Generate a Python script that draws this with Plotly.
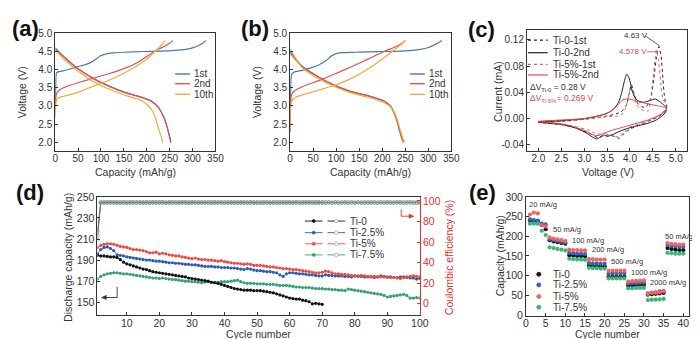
import plotly.graph_objects as go

W, H = 700, 339
def px(x): return x / W
def py(y): return 1 - y / H

FONT = "Arial, Liberation Sans, sans-serif"
AX = "#333333"
C_BLUE, C_RED, C_ORANGE = "#4a78a8", "#d9545a", "#f2a93b"
D_BLACK, D_BLUE, D_RED, D_GREEN = "#111111", "#2b5bb0", "#ee4a40", "#35a071"
RED_AX = "#e03030"

# ---------------- (a) charge/discharge, Ti-0 ----------------
a1_chg_cap = [0, 1, 3, 10, 25, 46, 60, 75, 88, 97, 110, 125, 150, 190, 230, 261, 285, 300, 312, 322, 329]
a1_chg_v = [2.9, 3.5, 3.92, 3.95, 3.99, 4.07, 4.12, 4.18, 4.28, 4.37, 4.43, 4.46, 4.48, 4.5, 4.51, 4.53, 4.56, 4.6, 4.66, 4.73, 4.8]
a2_chg_cap = [0, 1, 3, 10, 18, 32, 55, 82, 120, 154, 180, 204, 225, 240, 250, 257]
a2_chg_v = [2.9, 3.2, 3.35, 3.45, 3.5, 3.57, 3.66, 3.76, 3.9, 4.05, 4.2, 4.4, 4.56, 4.65, 4.73, 4.8]
a10_chg_cap = [0, 1, 3, 10, 25, 46, 82, 118, 154, 190, 205, 218, 230, 240]
a10_chg_v = [2.7, 3.05, 3.18, 3.24, 3.29, 3.36, 3.54, 3.71, 3.93, 4.2, 4.34, 4.5, 4.65, 4.8]
a1_dis_cap = [0, 18, 46, 82, 118, 154, 190, 211, 225, 233, 240, 246, 251, 253]
a1_dis_v = [4.6, 4.37, 4.06, 3.77, 3.55, 3.37, 3.24, 3.13, 2.97, 2.8, 2.6, 2.35, 2.12, 2.0]
a2_dis_cap = [0, 18, 46, 82, 118, 154, 190, 211, 225, 233, 240, 246, 250, 252]
a2_dis_v = [4.55, 4.36, 4.06, 3.76, 3.54, 3.36, 3.23, 3.12, 2.96, 2.8, 2.6, 2.35, 2.12, 2.0]
a10_dis_cap = [0, 18, 46, 82, 118, 154, 190, 204, 213, 218, 224, 229, 233, 235]
a10_dis_v = [4.55, 4.3, 4.0, 3.68, 3.46, 3.29, 3.14, 3.0, 2.85, 2.7, 2.45, 2.25, 2.1, 2.0]

# ---------------- (b) charge/discharge, Ti-5% ----------------
b1_chg_cap = [0, 1, 3, 8, 26, 45, 62, 78, 90, 100, 112, 140, 169, 210, 240, 265, 283, 300, 311, 322, 329]
b1_chg_v = [2.3, 3.4, 3.85, 3.93, 3.98, 4.05, 4.13, 4.25, 4.38, 4.44, 4.47, 4.48, 4.49, 4.5, 4.51, 4.53, 4.56, 4.61, 4.67, 4.74, 4.8]
b2_chg_cap = [0, 1, 3, 8, 26, 62, 97, 133, 169, 204, 230, 242, 250]
b2_chg_v = [2.3, 3.05, 3.3, 3.4, 3.53, 3.7, 3.88, 4.08, 4.29, 4.5, 4.64, 4.72, 4.8]
b10_chg_cap = [0, 1, 3, 12, 30, 62, 97, 133, 169, 204, 233, 243, 250]
b10_chg_v = [2.3, 2.95, 3.12, 3.24, 3.32, 3.44, 3.57, 3.76, 4.02, 4.33, 4.62, 4.71, 4.8]
b1_dis_cap = [0, 26, 62, 97, 133, 169, 204, 218, 226, 233, 238, 243, 246]
b1_dis_v = [4.5, 4.1, 3.8, 3.57, 3.4, 3.29, 3.14, 3.0, 2.8, 2.55, 2.3, 2.1, 2.0]
b2_dis_cap = [0, 26, 62, 97, 133, 169, 204, 218, 226, 233, 238, 243, 246]
b2_dis_v = [4.45, 4.08, 3.79, 3.56, 3.39, 3.28, 3.13, 2.99, 2.8, 2.55, 2.3, 2.1, 2.0]
b10_dis_cap = [0, 26, 62, 97, 133, 169, 204, 219, 228, 235, 240, 245, 248]
b10_dis_v = [4.57, 4.06, 3.75, 3.53, 3.36, 3.24, 3.09, 2.97, 2.78, 2.52, 2.3, 2.1, 2.0]

# ---------------- (c) CV ----------------
cv_t0_1_v = [2.0, 2.5, 3.0, 3.5, 3.8, 3.92, 3.98, 4.03, 4.08, 4.15, 4.25, 4.35, 4.45, 4.52, 4.58, 4.63, 4.68, 4.72, 4.76, 4.8,
             4.75, 4.6, 4.4, 4.2, 4.0, 3.85, 3.77, 3.65, 3.5, 3.4, 3.3, 3.1, 2.8, 2.5, 2.0]
cv_t0_1_i = [-0.005, -0.004, -0.001, 0.004, 0.01, 0.02, 0.038, 0.052, 0.04, 0.025, 0.018, 0.018, 0.03, 0.06, 0.095, 0.11, 0.095, 0.06, 0.03, 0.02,
             0.01, 0.002, -0.004, -0.01, -0.016, -0.024, -0.03, -0.027, -0.025, -0.027, -0.029, -0.022, -0.014, -0.009, -0.006]
cv_t0_2_v = [2.0, 2.5, 3.0, 3.3, 3.5, 3.65, 3.75, 3.82, 3.88, 3.93, 3.98, 4.05, 4.15, 4.3, 4.45, 4.55, 4.65, 4.75, 4.8,
             4.78, 4.7, 4.55, 4.35, 4.1, 3.9, 3.75, 3.6, 3.5, 3.42, 3.35, 3.28, 3.2, 3.05, 2.8, 2.5, 2.2, 2.0]
cv_t0_2_i = [-0.005, -0.003, 0.0, 0.004, 0.008, 0.015, 0.025, 0.04, 0.058, 0.068, 0.062, 0.042, 0.028, 0.025, 0.028, 0.03, 0.026, 0.02, 0.018,
             0.01, 0.004, -0.003, -0.008, -0.012, -0.016, -0.02, -0.025, -0.027, -0.025, -0.028, -0.031, -0.029, -0.022, -0.014, -0.009, -0.007, -0.005]
cv_t5_1_v = [2.0, 2.5, 3.0, 3.5, 3.8, 3.9, 3.97, 4.02, 4.08, 4.15, 4.3, 4.4, 4.45, 4.5, 4.578, 4.62, 4.68, 4.72, 4.8,
             4.7, 4.5, 4.2, 4.0, 3.85, 3.75, 3.6, 3.45, 3.3, 3.1, 2.8, 2.5, 2.0]
cv_t5_1_i = [-0.005, -0.004, -0.001, 0.003, 0.005, 0.015, 0.035, 0.047, 0.035, 0.02, 0.012, 0.012, 0.03, 0.06, 0.105, 0.09, 0.05, 0.03, 0.02,
             0.008, 0.0, -0.008, -0.013, -0.022, -0.028, -0.025, -0.022, -0.024, -0.018, -0.012, -0.008, -0.005]
cv_t5_2_v = [2.0, 2.5, 3.0, 3.4, 3.6, 3.75, 3.85, 3.95, 4.05, 4.15, 4.3, 4.5, 4.65, 4.8,
             4.75, 4.6, 4.4, 4.2, 4.0, 3.8, 3.6, 3.45, 3.3, 3.2, 3.0, 2.7, 2.4, 2.0]
cv_t5_2_i = [-0.004, -0.002, 0.0, 0.006, 0.012, 0.022, 0.029, 0.03, 0.029, 0.026, 0.024, 0.021, 0.019, 0.016,
             0.01, 0.004, -0.002, -0.006, -0.01, -0.014, -0.018, -0.022, -0.026, -0.025, -0.018, -0.011, -0.007, -0.005]

# ---------------- (d) cycling ----------------
cyc_ti0 = list(range(1, 71))
cyc_all = list(range(1, 101))
dis_ti0 = [194.5, 194, 194, 193.5, 193, 193, 192.5, 190.5, 188, 186.5, 185.5, 184.5, 183.5, 182.5, 181.5, 181, 180, 179, 178.5, 178,
           177.5, 177, 176.5, 176, 175.5, 175, 174.5, 174, 173, 172.5, 172, 171.5, 171, 170.5, 170, 169, 168.5, 168, 167, 166,
           165, 164, 163, 162.5, 162, 161.5, 161.5, 161.5, 161, 161, 161, 160.5, 160, 159.5, 159, 158, 157, 156, 155, 154,
           153.5, 153, 153, 152, 151.5, 150.5, 148.5, 149, 148.5, 148]
dis_ti25 = [196, 200, 202, 202.5, 201, 199, 195, 194.5, 194, 193, 192.5, 192, 191.5, 191, 190.5, 190, 190, 189.5, 189, 189,
            188.5, 188, 187.5, 187.5, 187, 187, 186.5, 186, 186, 185.5, 185.5, 185, 184.5, 184, 184, 184, 183.5, 183.5, 183, 183,
            183, 182.5, 182.5, 182, 181.5, 181, 182, 181.5, 180.5, 180, 180, 179.5, 179, 179, 178.5, 178, 176, 174.5, 177, 178,
            178, 177.5, 177, 177, 176.5, 176, 176, 175.5, 175, 175, 176, 175.5, 175.5, 175, 175, 175, 174.5, 174.5, 174, 175,
            174.5, 174.5, 174, 174, 174, 173.5, 174, 175, 174.5, 174, 174, 173.5, 173.5, 174, 174, 173.5, 173, 173, 172, 172.5]
dis_ti5 = [202, 204, 205, 205.5, 205.5, 205, 204, 203, 202.5, 202, 201, 200, 200, 199.5, 199, 198, 197, 197, 197.5, 196,
           196.5, 196, 195, 194.5, 194, 194, 193, 192.5, 192, 191.5, 192, 191, 190.5, 190.5, 190, 190, 189.5, 189, 189.5, 188.5,
           188, 187.5, 187, 187, 186.5, 186, 186.5, 186, 185, 185, 185, 184.5, 184, 183.5, 183.5, 183, 182.5, 182, 182, 181.5,
           181, 181, 180.5, 180, 179.5, 179, 178.5, 178, 178, 178.5, 179.5, 179, 178, 177, 177, 176.5, 176.5, 176, 175.5, 175,
           175, 175.5, 175, 174.5, 174.5, 174.5, 174, 174, 174, 173.5, 173.5, 173.5, 173, 172.5, 173.5, 174, 174.5, 175, 174.5, 174]
dis_ti75 = [172, 174.5, 176, 177, 177.5, 178, 178, 177.5, 177, 177, 176.5, 176, 175.5, 175, 174.5, 174, 173.5, 173, 173, 172.5,
            173, 172.5, 172, 171.5, 171.5, 171, 170.5, 170, 170, 169.5, 169.5, 169, 168.5, 169, 169.5, 169, 169, 169, 169.5, 169.5,
            169.5, 170, 170.5, 171, 169.5, 168.5, 168, 168, 168, 167.5, 167.5, 167.5, 167, 167, 167, 166.5, 166, 166, 166, 165.5,
            165, 164.5, 164.5, 164, 164, 164, 163.5, 163, 163, 163, 162.5, 162.5, 162, 162, 161.5, 161.5, 161, 162.5, 162, 161.5,
            161, 160.5, 160, 159.5, 159, 158.5, 158, 157.5, 156.5, 155, 155.5, 156, 156.5, 157, 157.5, 156.5, 154, 154, 154.5, 154]
ce_ti0 = [66, 98.5, 98.8, 98.3, 98.9, 98.4, 98.7, 98.2, 98.8, 98.5, 98.3, 98.9, 98.4, 98.6, 98.2, 98.8, 98.5, 98.3, 98.9, 98.4,
          98.7, 98.5, 98.2, 98.8, 98.4, 98.6, 98.3, 98.9, 98.5, 98.2, 98.7, 98.4, 98.8, 98.3, 98.6, 98.5, 98.9, 98.2, 98.7, 98.4,
          98.6, 98.3, 98.8, 98.5, 98.2, 98.9, 98.4, 98.6, 98.3, 98.7, 98.5, 98.2, 98.8, 98.4, 98.6, 98.3, 98.9, 98.5, 98.2, 98.7,
          98.4, 98.8, 98.3, 98.6, 98.5, 98.9, 98.2, 98.7, 98.4, 98.6]
ce_ti25 = [70, 98.3, 98.6, 98.9, 98.4, 98.7, 98.2, 98.8, 98.5, 98.3, 98.9, 98.4, 98.6, 98.2, 98.8, 98.5, 98.3, 98.9, 98.4, 98.7,
           98.5, 98.2, 98.8, 98.4, 98.6, 98.3, 98.9, 98.5, 98.2, 98.7, 98.4, 98.8, 98.3, 98.6, 98.5, 98.9, 98.2, 98.7, 98.4, 98.6,
           98.3, 98.8, 98.5, 98.2, 98.9, 98.4, 98.6, 98.3, 98.7, 98.5, 98.2, 98.8, 98.4, 98.6, 98.3, 98.9, 98.5, 98.2, 98.7, 98.4,
           98.8, 98.3, 98.6, 98.5, 98.9, 98.2, 98.7, 98.4, 98.6, 98.3, 98.8, 98.5, 98.2, 98.9, 98.4, 98.6, 98.3, 98.7, 98.5, 98.2,
           98.8, 98.4, 98.6, 98.3, 98.9, 98.5, 98.2, 98.7, 98.4, 98.8, 98.3, 98.6, 98.5, 98.9, 98.2, 98.7, 98.4, 98.6, 98.3, 98.8]
ce_ti5 = [72, 98.6, 98.2, 98.8, 98.5, 98.3, 98.9, 98.4, 98.7, 98.2, 98.8, 98.5, 98.3, 98.9, 98.4, 98.6, 98.2, 98.8, 98.5, 98.3,
          98.9, 98.4, 98.7, 98.5, 98.2, 98.8, 98.4, 98.6, 98.3, 98.9, 98.5, 98.2, 98.7, 98.4, 98.8, 98.3, 98.6, 98.5, 98.9, 98.2,
          98.7, 98.4, 98.6, 98.3, 98.8, 98.5, 98.2, 98.9, 98.4, 98.6, 98.3, 98.7, 98.5, 98.2, 98.8, 98.4, 98.6, 98.3, 98.9, 98.5,
          98.2, 98.7, 98.4, 98.8, 98.3, 98.6, 98.5, 98.9, 98.2, 98.7, 98.4, 98.6, 98.3, 98.8, 98.5, 98.2, 98.9, 98.4, 98.6, 98.3,
          98.7, 98.5, 98.2, 98.8, 98.4, 98.6, 98.3, 98.9, 98.5, 98.2, 98.7, 98.4, 98.8, 98.3, 98.6, 98.5, 98.9, 98.2, 98.7, 98.4]
ce_ti75 = [62, 98.4, 98.7, 98.3, 98.6, 98.9, 98.2, 98.5, 98.8, 98.4, 98.6, 98.3, 98.7, 98.5, 98.2, 98.9, 98.4, 98.6, 98.3, 98.8,
           98.5, 98.2, 98.7, 98.4, 98.6, 98.3, 98.9, 98.5, 98.2, 98.8, 98.4, 98.6, 98.3, 98.7, 98.5, 98.2, 98.9, 98.4, 98.6, 98.3,
           98.8, 98.5, 98.2, 98.7, 98.4, 98.6, 98.3, 98.9, 98.5, 98.2, 98.8, 98.4, 98.6, 98.3, 98.7, 98.5, 98.2, 98.9, 98.4, 98.6,
           98.3, 98.8, 98.5, 98.2, 98.7, 98.4, 98.6, 98.3, 98.9, 98.5, 98.2, 98.8, 98.4, 98.6, 98.3, 98.7, 98.5, 98.2, 98.9, 98.4,
           98.6, 98.3, 98.8, 98.5, 98.2, 98.7, 98.4, 98.6, 98.3, 98.9, 98.5, 98.2, 98.8, 98.4, 98.6, 98.3, 98.7, 98.5, 98.2, 98.6]

# ---------------- (e) rate ----------------
rate_cyc = list(range(1, 41))
rate_ti0 = [240, 238, 238, 228, 218, 190, 187, 185, 183, 181, 152, 151, 150, 150, 149, 125, 124, 124, 123, 123,
            97, 97, 97, 97, 97, 75, 76, 76, 77, 77, 52, 53, 54, 55, 56, 170, 168, 166, 165, 165]
rate_ti25 = [243, 241, 240, 232, 230, 193, 190, 188, 186, 184, 158, 157, 156, 156, 155, 132, 131, 131, 130, 130,
             105, 106, 106, 106, 106, 80, 81, 81, 82, 82, 55, 57, 58, 60, 61, 178, 176, 175, 174, 174]
rate_ti5 = [255, 260, 258, 228, 225, 197, 194, 192, 190, 188, 166, 165, 165, 164, 164, 142, 142, 141, 141, 141,
            112, 113, 113, 113, 113, 85, 86, 87, 87, 88, 54, 56, 57, 58, 60, 183, 181, 180, 179, 179]
rate_ti75 = [232, 232, 232, 214, 203, 172, 170, 168, 166, 164, 143, 142, 141, 141, 140, 120, 119, 119, 118, 118,
             93, 93, 93, 93, 93, 68, 68, 69, 69, 69, 38, 39, 39, 40, 41, 158, 157, 156, 156, 156]
rate_labels = ["20 mA/g", "50 mA/g", "100 mA/g", "200 mA/g", "500 mA/g", "1000 mA/g", "2000 mA/g", "50 mA/g"]

fig = go.Figure()

def line(x, y, color, xa, ya, dash="solid", width=1.2, shape="spline"):
    fig.add_trace(go.Scatter(x=x, y=y, mode="lines", xaxis=xa, yaxis=ya,
                             line=dict(color=color, width=width, dash=dash, shape=shape, smoothing=0.6),
                             hoverinfo="skip"))

# (a)
for cx, cy, col in [(a1_chg_cap, a1_chg_v, C_BLUE), (a1_dis_cap, a1_dis_v, C_BLUE),
                    (a2_chg_cap, a2_chg_v, C_RED), (a2_dis_cap, a2_dis_v, C_RED),
                    (a10_chg_cap, a10_chg_v, C_ORANGE), (a10_dis_cap, a10_dis_v, C_ORANGE)]:
    line(cx, cy, col, "x", "y")
# (b)
for cx, cy, col in [(b1_chg_cap, b1_chg_v, C_BLUE), (b1_dis_cap, b1_dis_v, C_BLUE),
                    (b2_chg_cap, b2_chg_v, C_RED), (b2_dis_cap, b2_dis_v, C_RED),
                    (b10_chg_cap, b10_chg_v, C_ORANGE), (b10_dis_cap, b10_dis_v, C_ORANGE)]:
    line(cx, cy, col, "x2", "y2")
# (c)
line(cv_t0_1_v, cv_t0_1_i, "#222222", "x3", "y3", dash="dot", width=1.0)
line(cv_t5_1_v, cv_t5_1_i, "#e06060", "x3", "y3", dash="dot", width=1.0)
line(cv_t0_2_v, cv_t0_2_i, "#222222", "x3", "y3", width=1.0)
line(cv_t5_2_v, cv_t5_2_i, "#e04848", "x3", "y3", width=1.0)

# (d)
for cyc, ce, col in [(cyc_ti0, ce_ti0, D_BLACK), (cyc_all, ce_ti25, D_BLUE),
                     (cyc_all, ce_ti5, D_RED), (cyc_all, ce_ti75, D_GREEN)]:
    fig.add_trace(go.Scatter(x=cyc, y=ce, mode="lines+markers", xaxis="x4", yaxis="y6",
                             line=dict(color=col, width=0.6),
                             marker=dict(symbol="circle-open", size=3.5, color="#8a9a90", line=dict(width=0.6)),
                             hoverinfo="skip"))
for cyc, dv, col in [(cyc_all, dis_ti75, D_GREEN), (cyc_all, dis_ti25, D_BLUE),
                     (cyc_all, dis_ti5, D_RED), (cyc_ti0, dis_ti0, D_BLACK)]:
    fig.add_trace(go.Scatter(x=cyc, y=dv, mode="lines+markers", xaxis="x4", yaxis="y4",
                             line=dict(color=col, width=0.8),
                             marker=dict(symbol="circle", size=3.2, color=col),
                             hoverinfo="skip"))

# (e)
for rv, col in [(rate_ti0, "#111111"), (rate_ti25, "#3565b0"), (rate_ti5, "#f06464"), (rate_ti75, "#3db37a")]:
    fig.add_trace(go.Scatter(x=rate_cyc, y=rv, mode="markers", xaxis="x5", yaxis="y5",
                             marker=dict(symbol="circle", size=4.2, color=col), hoverinfo="skip"))

def axis(domain, rng, tickvals, ticktext=None, anchor=None, fs=10, xa=True, **kw):
    d = dict(domain=domain, range=rng, tickvals=tickvals, showgrid=False, zeroline=False,
             showline=True, linecolor=AX, linewidth=1, mirror=True, ticks="inside", ticklen=3,
             tickcolor=AX, tickfont=dict(family=FONT, size=fs, color=AX),
             ticklabelstandoff=-2 if xa else 0)
    if ticktext is not None:
        d["ticktext"] = ticktext
    if anchor:
        d["anchor"] = anchor
    d.update(kw)
    return d

ab_y = [2.0, 2.5, 3.0, 3.5, 4.0, 4.5, 5.0]
ab_x = [0, 50, 100, 150, 200, 250, 300, 350]
fig.update_layout(
    xaxis=axis([px(45), px(208)], [0, 350], ab_x, anchor="y"),
    yaxis=axis([py(142), py(20)], [1.75, 5.0], ab_y, [f"{v:.1f}" for v in ab_y], anchor="x", xa=False),
    xaxis2=axis([px(284), px(448)], [0, 350], ab_x, anchor="y2"),
    yaxis2=axis([py(142), py(20)], [1.75, 5.0], ab_y, [f"{v:.1f}" for v in ab_y], anchor="x2", xa=False),
    xaxis3=axis([px(525), px(688)], [1.75, 5.25], [2.0, 2.5, 3.0, 3.5, 4.0, 4.5, 5.0],
                ["2.0", "2.5", "3.0", "3.5", "4.0", "4.5", "5.0"], anchor="y3"),
    yaxis3=axis([py(142), py(16.7)], [-0.05, 0.135], [-0.04, 0.0, 0.04, 0.08, 0.12],
                ["-0.04", "0.00", "0.04", "0.08", "0.12"], anchor="x3", xa=False),
    xaxis4=axis([px(88), px(416)], [1, 100], [10, 20, 30, 40, 50, 60, 70, 80, 90, 100],
                anchor="y4", fs=10.5),
    yaxis4=axis([py(311), py(189)], [138, 250], [150, 170, 190, 210, 230, 250],
                anchor="x4", mirror=False, fs=10.5, xa=False),
    yaxis6=axis([py(311), py(189)], [-11, 104], [0, 20, 40, 60, 80, 100],
                anchor="x4", overlaying="y4", side="right", mirror=False, linecolor=RED_AX, xa=False,
                tickcolor=RED_AX, tickfont=dict(family=FONT, size=10.5, color=RED_AX)),
    xaxis5=axis([px(524), px(690)], [0, 41.5], [0, 5, 10, 15, 20, 25, 30, 35, 40], anchor="y5", fs=10.5),
    yaxis5=axis([py(312), py(189)], [-2, 300], [0, 50, 100, 150, 200, 250, 300], anchor="x5", fs=10.5, xa=False),
)

shapes = []
ann = []

def seg(x0, y0, x1, y1, color, width=1.2, dash="solid"):
    shapes.append(dict(type="line", xref="paper", yref="paper", x0=px(x0), y0=py(y0), x1=px(x1), y1=py(y1),
                       line=dict(color=color, width=width, dash=dash)))

def dot(x, y, r, color, fill=True, edge=None):
    shapes.append(dict(type="circle", xref="paper", yref="paper", x0=px(x - r), x1=px(x + r), y0=py(y + r), y1=py(y - r),
                       line=dict(color=edge or color, width=0.8), fillcolor=color if fill else "white"))

def tri(pts, color):
    path = "M " + " L ".join(f"{px(a):.5f},{py(b):.5f}" for a, b in pts) + " Z"
    shapes.append(dict(type="path", xref="paper", yref="paper", path=path, fillcolor=color,
                       line=dict(color=color, width=0.5)))

def text(x, y, s, size=10, color=AX, xanchor="left", bold=False, angle=0):
    ann.append(dict(xref="paper", yref="paper", x=px(x), y=py(y), text=f"<b>{s}</b>" if bold else s, showarrow=False,
                    xanchor=xanchor, yanchor="middle", textangle=angle,
                    font=dict(family=FONT, size=size, color=color)))

# panel labels
for lbl, x, y in [("(a)", 15, 15), ("(b)", 248, 15), ("(c)", 479, 16), ("(d)", 19, 184), ("(e)", 480, 185)]:
    text(x, y, lbl, size=22, color="#111111", xanchor="center", bold=True)

# axis titles
for x, y, s, ang in [(127, 163, "Capacity (mAh/g)", 0), (12, 81, "Voltage (V)", -90),
                     (366, 163, "Capacity (mAh/g)", 0), (251, 81, "Voltage (V)", -90),
                     (607, 163, "Voltage (V)", 0), (496, 80, "Current (mA)", -90),
                     (252, 331, "Cycle number", 0), (58, 252, "Discharge capacity (mAh/g)", -90),
                     (607, 331, "Cycle number", 0), (497, 250, "Capacity (mAh/g)", -90)]:
    text(x, y, s, size=10.5, xanchor="center", angle=ang)
text(445, 252, "Coulombic efficiency (%)", size=10.5, color=RED_AX, xanchor="center", angle=-90)

# legends (a)/(b)
for x0 in (167, 406):
    for yy, col, s in [(62, C_BLUE, "1st"), (72, C_RED, "2nd"), (83, C_ORANGE, "10th")]:
        seg(x0, yy, x0 + 15, yy, col, 1.4)
        text(x0 + 17, yy, s, size=10)

# legend (c)
for yy, col, dash, s in [(27, "#222222", "dot", "Ti-0-1st"), (40, "#222222", "solid", "Ti-0-2nd"),
                         (52, "#e06060", "dot", "Ti-5%-1st"), (63, "#e04848", "solid", "Ti-5%-2nd")]:
    seg(526, yy, 546, yy, col, 1.2, dash)
    text(549, yy, s, size=10)
text(526, 76, "ΔV<sub>Ti-0</sub> = 0.28 V", size=8.5)
text(526, 87, "ΔV<sub>Ti-5%</sub>= 0.269 V", size=8.5, color="#e04848")
text(636, 22, "4.63 V", size=8, xanchor="center")
seg(646, 23, 660, 33, "#333333", 0.8)
text(633, 39, "4.578 V", size=8, color="#e04848", xanchor="center")
seg(647, 39, 658, 39, "#e04848", 0.8)

# legend (d)
for yy, col, s in [(214, D_BLACK, "Ti-0"), (226, D_BLUE, "Ti-2.5%"), (237.5, D_RED, "Ti-5%"), (249, D_GREEN, "Ti-7.5%")]:
    seg(299, yy, 317, yy, col, 0.9)
    dot(308, yy, 1.5, col)
    seg(322, yy, 340, yy, col, 0.9)
    dot(331, yy, 1.8, "white", edge="#a0aaa4")
    text(343, yy, s, size=10)
# arrows (d)
seg(108, 282, 108, 293, "#333333", 0.9)
seg(96, 293, 108, 293, "#333333", 0.9)
tri([(92, 293), (97, 290.8), (97, 295.2)], "#333333")
seg(397, 202, 397, 209, RED_AX, 0.9)
seg(397, 209, 406, 209, RED_AX, 0.9)
tri([(410, 209), (405, 206.8), (405, 211.2)], RED_AX)

# (e) annotations & legend
for (x, y), s in zip([(525, 197), (549, 223), (569, 234), (589, 243), (608, 256), (629, 267), (648, 277), (663, 230)],
                     rate_labels):
    text(x, y, s, size=7.5)
for yy, col, s in [(269, "#111111", "Ti-0"), (280, "#3565b0", "Ti-2.5%"), (292, "#f06464", "Ti-5%"), (303, "#3db37a", "Ti-7.5%")]:
    dot(537, yy, 2.1, col)
    text(549, yy, s, size=10)

fig.update_layout(width=W, height=H, margin=dict(l=0, r=0, t=0, b=0), paper_bgcolor="white",
                  plot_bgcolor="white", showlegend=False, shapes=shapes, annotations=ann,
                  font=dict(family=FONT, color=AX))
fig.write_html("out.html")
